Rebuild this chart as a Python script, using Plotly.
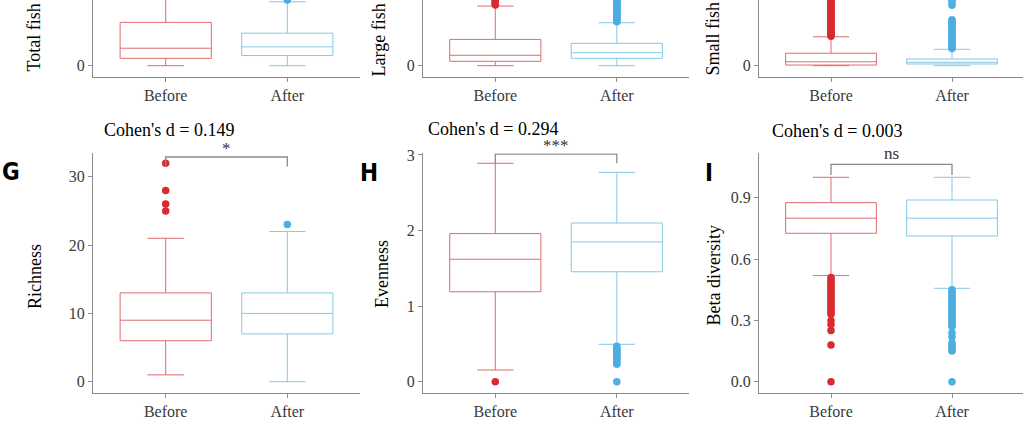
import plotly.graph_objects as go
from plotly.subplots import make_subplots

W, H = 1025, 437

groups = ["Before", "After"]

# top row (the picture cuts these panels off at the top)
total_q1 = [21, 29]
total_median = [50, 54]
total_q3 = [124, 93]
total_lower = [0, 0]
total_upper = [275, 183]
total_out_before = [290, 310]
total_out_after = [188, 196, 210]

large_q1 = [8.7, 14.6]
large_median = [20.6, 25.7]
large_q3 = [52, 44.3]
large_lower = [0, 0]
large_upper = [118, 85]
large_out_before = [120, 122, 124, 126, 128, 130, 134, 140]
large_out_after = [87, 89, 91, 93, 95, 97, 99, 101, 103, 105, 107, 109, 111,
                   113, 115, 117, 119, 121, 123, 125, 127, 129, 131, 140]

small_q1 = [1, 2.6]
small_median = [6, 5.2]
small_q3 = [19, 10.2]
small_lower = [0, 0]
small_upper = [44, 25]
small_out_before = [45, 47, 49, 51, 53, 55, 57, 59, 61, 63, 65, 67, 69, 71, 73,
                    75, 77, 79, 81, 83, 85, 87, 89, 91, 93, 95, 97, 99, 101]
small_out_after = [26, 28, 30, 32, 34, 36, 38, 40, 42, 44, 46, 48, 50, 52, 54,
                   56, 58, 60, 62, 64, 66, 68, 70, 92, 97, 100]

# bottom row
rich_q1 = [6, 7]
rich_median = [9, 10]
rich_q3 = [13, 13]
rich_lower = [1, 0]
rich_upper = [21, 22]
rich_out_before = [25, 26, 28, 32]
rich_out_after = [23]

even_q1 = [1.19, 1.455]
even_median = [1.62, 1.85]
even_q3 = [1.96, 2.10]
even_lower = [0.155, 0.495]
even_upper = [2.89, 2.77]
even_out_before = [0.0]
even_out_after = [0.0, 0.23, 0.25, 0.27, 0.29, 0.31, 0.33, 0.35, 0.37, 0.39,
                  0.41, 0.43, 0.45, 0.47]

beta_q1 = [0.726, 0.713]
beta_median = [0.80, 0.80]
beta_q3 = [0.876, 0.889]
beta_lower = [0.519, 0.457]
beta_upper = [1.0, 1.0]
beta_out_before = [0.0, 0.18, 0.25, 0.28, 0.30, 0.33, 0.34, 0.35, 0.36, 0.37,
                   0.38, 0.39, 0.40, 0.41, 0.42, 0.43, 0.44, 0.45, 0.46, 0.47,
                   0.48, 0.49, 0.50, 0.51]
beta_out_after = [0.0, 0.15, 0.16, 0.17, 0.18, 0.19, 0.22, 0.24, 0.27, 0.28,
                  0.29, 0.30, 0.31, 0.32, 0.33, 0.34, 0.35, 0.36, 0.37, 0.38,
                  0.39, 0.40, 0.41, 0.42, 0.43, 0.44, 0.45]

cohens_d = ["0.149", "0.294", "0.003"]
signif = ["*", "***", "ns"]
letters = ["G", "H", "I"]

BOX_COL = ["#E06B70", "#83C9E6"]
PT_COL = ["#D72B30", "#4DAEE0"]
AX_COL = "#8a8a8a"
SERIF = "Liberation Serif, Times New Roman, serif"


# pixel -> paper coordinate
def fx(p):
    return p / W


def fy(p):
    return 1 - p / H


# panel frames in pixels: axis left/right, category centres
col_geom = {1: dict(left=93, right=360, c0=165.7, c1=287.3),
            2: dict(left=423, right=689, c0=495.3, c1=616.8),
            3: dict(left=759, right=1023, c0=831, c1=952)}
row_geom = {1: dict(top=0, bottom=76.7), 2: dict(top=153.3, bottom=393)}

panels = [
    dict(row=1, col=1, name="Total fish", stats=(total_q1, total_median, total_q3, total_lower, total_upper),
         out=(total_out_before, total_out_after), zero=65.7, ppu=0.3495, tickvals=[0, 200], fmt=None,
         title_xy=(33.5, 38)),
    dict(row=1, col=2, name="Large fish", stats=(large_q1, large_median, large_q3, large_lower, large_upper),
         out=(large_out_before, large_out_after), zero=65.7, ppu=0.5053, tickvals=[0, 150], fmt=None,
         title_xy=(378.5, 40)),
    dict(row=1, col=3, name="Small fish", stats=(small_q1, small_median, small_q3, small_lower, small_upper),
         out=(small_out_before, small_out_after), zero=65.7, ppu=0.657, tickvals=[0, 150], fmt=None,
         title_xy=(712.5, 39)),
    dict(row=2, col=1, name="Richness", stats=(rich_q1, rich_median, rich_q3, rich_lower, rich_upper),
         out=(rich_out_before, rich_out_after), zero=381.7, ppu=6.83, tickvals=[0, 10, 20, 30], fmt=None,
         title_xy=(34.5, 276.5), bracket=(32.9, 31.5), sig_shift=-3),
    dict(row=2, col=2, name="Evenness", stats=(even_q1, even_median, even_q3, even_lower, even_upper),
         out=(even_out_before, even_out_after), zero=381.7, ppu=75.57, tickvals=[0, 1, 2, 3], fmt=None,
         title_xy=(382, 274), bracket=(3.012, 2.89), sig_shift=-3),
    dict(row=2, col=3, name="Beta diversity", stats=(beta_q1, beta_median, beta_q3, beta_lower, beta_upper),
         out=(beta_out_before, beta_out_after), zero=381.7, ppu=204.4, tickvals=[0, 0.3, 0.6, 0.9], fmt=".1f",
         title_xy=(713.5, 276), bracket=(1.063, 1.011), sig_shift=-1),
]

fig = make_subplots(rows=2, cols=3)

annotations = []
shapes = []

for i, p in enumerate(panels):
    r, c = p["row"], p["col"]
    q1, med, q3, lo, hi = p["stats"]
    for g in range(2):
        fig.add_trace(go.Box(
            x=[groups[g]], q1=[q1[g]], median=[med[g]], q3=[q3[g]],
            lowerfence=[lo[g]], upperfence=[hi[g]],
            boxpoints=False, width=0.75, whiskerwidth=0.4,
            fillcolor="white", line=dict(color=BOX_COL[g], width=1),
            hoverinfo="skip"), row=r, col=c)
        pts = p["out"][g]
        if pts:
            fig.add_trace(go.Scatter(
                x=[groups[g]] * len(pts), y=pts, mode="markers",
                marker=dict(color=PT_COL[g], size=7.5, line=dict(width=0)),
                hoverinfo="skip"), row=r, col=c)

    cg, rg = col_geom[c], row_geom[r]
    left, right = cg["left"], min(cg["right"], W)
    top, bottom = max(rg["top"], 0), rg["bottom"]
    unit = cg["c1"] - cg["c0"]
    xr = [-(cg["c0"] - left) / unit, 1 + (right - cg["c1"]) / unit]
    yr = [(p["zero"] - bottom) / p["ppu"], (p["zero"] - top) / p["ppu"]]

    fig.update_xaxes(domain=[fx(left), fx(right)], range=xr, row=r, col=c)
    fig.update_yaxes(domain=[fy(bottom), fy(top)], range=yr,
                     tickvals=p["tickvals"], row=r, col=c)
    if p["fmt"]:
        fig.update_yaxes(tickformat=p["fmt"], row=r, col=c)

    tx, ty = p["title_xy"]
    annotations.append(dict(text=p["name"], x=fx(tx), y=fy(ty), xref="paper", yref="paper",
                            textangle=-90, showarrow=False, xanchor="center", yanchor="middle",
                            font=dict(family=SERIF, size=18, color="black")))

    if r == 2:
        k = c - 1
        idx = "" if i == 0 else str(i + 1)
        xa, ya = "x" + idx, "y" + idx
        ytop, ytip = p["bracket"]
        shapes.append(dict(type="path", xref=xa, yref=ya,
                           path=f"M 0,{ytip} L 0,{ytop} L 1,{ytop} L 1,{ytip}",
                           line=dict(color=AX_COL, width=1.3)))
        annotations.append(dict(text=signif[k], x=0.5, y=ytop, xref=xa, yref=ya, showarrow=False,
                                xanchor="center", yanchor="bottom", yshift=p["sig_shift"],
                                font=dict(family=SERIF, size=17, color="#333333")))

# panel titles and letters for the bottom row
title_pos = [(101.7, 129.5), (426, 128.5), (770, 130.5)]
letter_pos = [(11, 172), (369, 173), (709, 172.5)]
for k in range(3):
    tx, ty = title_pos[k]
    annotations.append(dict(text=f"Cohen's d = {cohens_d[k]}", x=fx(tx), y=fy(ty),
                            xref="paper", yref="paper", showarrow=False,
                            xanchor="left", yanchor="middle",
                            font=dict(family=SERIF, size=18, color="black")))
    lx, ly = letter_pos[k]
    annotations.append(dict(text=f"<b>{letters[k]}</b>", x=fx(lx), y=fy(ly),
                            xref="paper", yref="paper", showarrow=False,
                            xanchor="center", yanchor="middle",
                            font=dict(family="Liberation Sans Narrow, DejaVu Sans Condensed, Roboto",
                                      size=24, color="black")))

fig.update_xaxes(type="category", categoryorder="array", categoryarray=groups,
                 showline=True, linecolor=AX_COL, linewidth=1.3,
                 ticks="outside", ticklen=4, tickcolor=AX_COL, tickwidth=1,
                 showgrid=False, zeroline=False, automargin=False,
                 tickfont=dict(family=SERIF, size=16, color="#3a3a3a"))
fig.update_yaxes(showline=True, linecolor=AX_COL, linewidth=1.3,
                 ticks="outside", ticklen=4, tickcolor=AX_COL, tickwidth=1,
                 showgrid=False, zeroline=False, automargin=False,
                 tickfont=dict(family=SERIF, size=16, color="#3a3a3a"))

fig.update_layout(width=W, height=H, autosize=False,
                  margin=dict(l=0, r=0, t=0, b=0, autoexpand=False),
                  paper_bgcolor="white", plot_bgcolor="white",
                  showlegend=False, boxmode="overlay",
                  annotations=annotations, shapes=shapes)

# drop the default 8px page margin so the figure sits at the window corner
fig.write_html("out.html", config={"displayModeBar": False},
               post_script="document.body.style.margin = '0';")
